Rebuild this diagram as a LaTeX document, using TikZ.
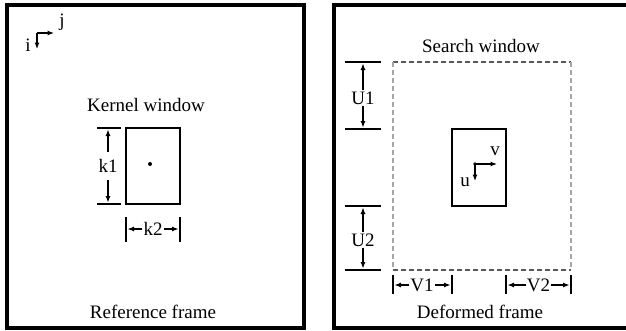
\documentclass[tikz,border=0pt]{standalone}
\usepackage{fontspec}
\setmainfont{Liberation Serif}
\usetikzlibrary{arrows.meta}
\begin{document}
\begin{tikzpicture}[x=1pt,y=-1pt,
  every node/.style={font=\fontsize{19}{22}\selectfont, inner sep=1pt},
  frame/.style={line width=3.8pt},
  window/.style={line width=1.4pt},
  dimline/.style={line width=1.3pt},
  dimarrow/.style={line width=1.1pt, -{Latex[length=6.5pt,width=5pt]}},
  searchh/.style={line width=1.3pt, black!65, dash pattern=on 5pt off 3pt},
  searchv/.style={line width=1.3pt, black!35, dash pattern=on 5pt off 3pt}]
\useasboundingbox (0,0) rectangle (626,330);
\clip (0,0) rectangle (626,330);

% ---------- reference frame ----------
\draw[frame] (7,5) rectangle (304,328);
\node (reflabel) at (153,312) {Reference frame};

% image axes
\coordinate (ij) at (37,33);
\coordinate (jend) at (54,33);
\coordinate (iend) at (37,49);
\draw[dimarrow] (ij) -- (jend);
\draw[dimarrow] (ij) -- (iend);
\node (jlab) at (62,22) {j};
\node (ilab) at (28,45) {i};

% kernel window
\node (kernlabel) at (146,105) {Kernel window};
\node[draw, window, minimum width=54pt, minimum height=76pt, inner sep=0pt] (kernel) at (153,166) {};
\fill (150,164) circle (2pt);

% k1 dimension
\coordinate (k1a) at (97,128);  \coordinate (k1b) at (121,128);
\coordinate (k1c) at (97,204);  \coordinate (k1d) at (121,204);
\draw[dimline] (k1a) -- (k1b);
\draw[dimline] (k1c) -- (k1d);
\node (k1) at (108,166) {k1};
\draw[dimarrow] (k1.north) ++(0,-6) -- (108,129.5);
\draw[dimarrow] (k1.south) ++(0,6) -- (108,202.5);

% k2 dimension
\coordinate (k2a) at (126,217); \coordinate (k2b) at (126,242);
\coordinate (k2c) at (180,217); \coordinate (k2d) at (180,242);
\draw[dimline] (k2a) -- (k2b);
\draw[dimline] (k2c) -- (k2d);
\node (k2) at (153,229) {k2};
\draw[dimarrow] (k2.west) -- (127.5,229);
\draw[dimarrow] (k2.east) -- (178.5,229);

% ---------- deformed frame ----------
\draw[frame] (334,5) rectangle (660,328);
\node (deflabel) at (480,312) {Deformed frame};

% search window
\node (searchlabel) at (481,46) {Search window};
\coordinate (s1) at (393,62);  \coordinate (s2) at (571,62);
\coordinate (s3) at (571,270); \coordinate (s4) at (393,270);
\draw[searchh] (s1) -- (s2);
\draw[searchh] (s4) -- (s3);
\draw[searchv] (s1) -- (s4);
\draw[searchv] (s2) -- (s3);

% displaced kernel window
\node[draw, window, minimum width=54pt, minimum height=77pt, inner sep=0pt] (dkernel) at (479,167.5) {};

% displacement axes
\coordinate (uv) at (475,164);
\coordinate (vend) at (497,164);
\coordinate (uend) at (475,181);
\fill (uv) circle (1.8pt);
\draw[dimarrow] (uv) -- (vend);
\draw[dimarrow] (uv) -- (uend);
\node (vlab) at (495,151) {v};
\node (ulab) at (465,182) {u};

% U1 dimension
\coordinate (u1a) at (345,62);  \coordinate (u1b) at (381,62);
\coordinate (u1c) at (345,129); \coordinate (u1d) at (381,129);
\draw[dimline] (u1a) -- (u1b);
\draw[dimline] (u1c) -- (u1d);
\node (U1) at (363,98) {U1};
\draw[dimarrow] (U1.north) -- (363,63.5);
\draw[dimarrow] (U1.south) -- (363,127.5);

% U2 dimension
\coordinate (u2a) at (345,206); \coordinate (u2b) at (381,206);
\coordinate (u2c) at (345,270); \coordinate (u2d) at (381,270);
\draw[dimline] (u2a) -- (u2b);
\draw[dimline] (u2c) -- (u2d);
\node (U2) at (363,240) {U2};
\draw[dimarrow] (U2.north) -- (363,207.5);
\draw[dimarrow] (U2.south) -- (363,268.5);

% V1 dimension
\coordinate (v1a) at (393,275); \coordinate (v1b) at (393,294);
\coordinate (v1c) at (452,275); \coordinate (v1d) at (452,294);
\draw[dimline] (v1a) -- (v1b);
\draw[dimline] (v1c) -- (v1d);
\node (V1) at (422,285) {V1};
\draw[dimarrow] (V1.west) -- (394.5,285);
\draw[dimarrow] (V1.east) -- (450.5,285);

% V2 dimension
\coordinate (v2a) at (506,275); \coordinate (v2b) at (506,294);
\coordinate (v2c) at (571,275); \coordinate (v2d) at (571,294);
\draw[dimline] (v2a) -- (v2b);
\draw[dimline] (v2c) -- (v2d);
\node (V2) at (538.5,285) {V2};
\draw[dimarrow] (V2.west) -- (507.5,285);
\draw[dimarrow] (V2.east) -- (569.5,285);
\end{tikzpicture}
\end{document}
